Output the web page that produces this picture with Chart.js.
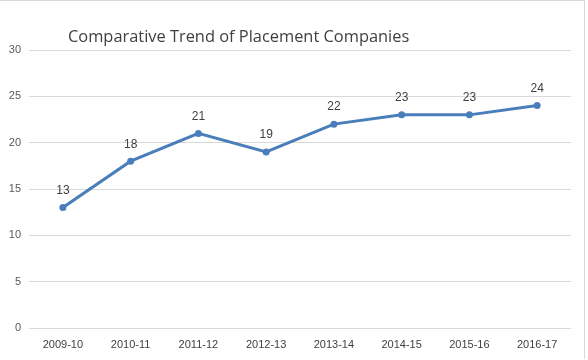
<!DOCTYPE html>
<html>
<head>
<meta charset="utf-8">
<script src="https://cdn.jsdelivr.net/npm/chart.js@4/dist/chart.umd.min.js"></script>
<style>
  html, body { margin: 0; padding: 0; background: #fff; }
  #wrap { position: relative; width: 588px; height: 360px; }
  #frame { position: absolute; left: 0; top: 0; width: 585px; height: 359px;
           border-top: 1px solid #d9d9d9; border-right: 1px solid #d9d9d9; box-sizing: border-box; pointer-events: none; }
</style>
</head>
<body>
<div id="wrap">
  <canvas id="c" width="588" height="360"></canvas>
  <div id="frame"></div>
</div>
<script>
const titleText = "Comparative Trend of Placement Companies";
const categories = ["2009-10", "2010-11", "2011-12", "2012-13", "2013-14", "2014-15", "2015-16", "2016-17"];
const companies = [13, 18, 21, 19, 22, 23, 23, 24];
const yTicks = [0, 5, 10, 15, 20, 25, 30];

const labelPlugin = {
  id: 'valueLabels',
  afterDatasetsDraw(chart) {
    const ctx = chart.ctx;
    const meta = chart.getDatasetMeta(0);
    ctx.save();
    ctx.font = '12px "Liberation Sans", Arial, sans-serif';
    ctx.fillStyle = '#404040';
    ctx.textAlign = 'center';
    ctx.textBaseline = 'middle';
    meta.data.forEach((pt, i) => {
      ctx.fillText(String(companies[i]), pt.x, pt.y - 17);
    });
    ctx.restore();
  }
};

const titlePlugin = {
  id: 'customTitle',
  afterDraw(chart) {
    const ctx = chart.ctx;
    ctx.save();
    ctx.font = '16.4px "Open Sans", "Liberation Sans", sans-serif';
    ctx.fillStyle = '#404040';
    ctx.textAlign = 'left';
    ctx.textBaseline = 'middle';
    ctx.fillText(titleText, 68, 37);
    ctx.restore();
  }
};

new Chart(document.getElementById('c'), {
  type: 'line',
  data: {
    labels: categories,
    datasets: [{
      data: companies,
      borderColor: '#4A7EBB',
      backgroundColor: '#4A7EBB',
      borderWidth: 3,
      pointRadius: 3.5,
      pointBackgroundColor: '#4A7EBB',
      pointBorderWidth: 0,
      tension: 0,
      fill: false
    }]
  },
  options: {
    responsive: false,
    animation: false,
    devicePixelRatio: 1,
    layout: { padding: { top: 50, right: 17, left: 0, bottom: 0 } },
    plugins: { legend: { display: false }, title: { display: false }, tooltip: { enabled: false } },
    scales: {
      x: {
        offset: true,
        grid: { display: false, drawTicks: false },
        border: { display: false },
        ticks: { color: '#404040', font: { size: 11, family: '"Liberation Sans", Arial, sans-serif' }, padding: 10, maxRotation: 0 },
        afterFit(axis) { axis.height = 32; }
      },
      y: {
        min: 0, max: 30,
        afterBuildTicks(axis) { axis.ticks = yTicks.map(v => ({ value: v })); },
        grid: { color: '#d9d9d9', lineWidth: 1, drawTicks: false },
        border: { display: false },
        ticks: { color: '#595959', font: { size: 11, family: '"Liberation Sans", Arial, sans-serif' }, padding: 8 },
        afterFit(axis) { axis.width = 29; }
      }
    }
  },
  plugins: [labelPlugin, titlePlugin]
});
</script>
</body>
</html>
